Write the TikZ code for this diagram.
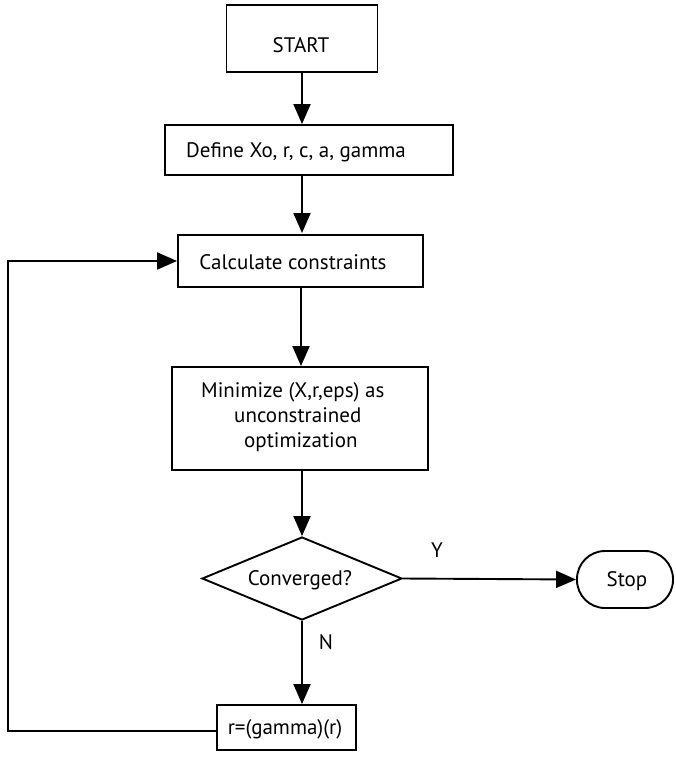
\documentclass[tikz,border=0pt]{standalone}
\usepackage{fontspec}
\setmainfont{PT Sans}
\usetikzlibrary{arrows.meta,shapes.geometric}
\begin{document}
\begin{tikzpicture}[x=1pt,y=-1pt,
  every node/.style={font=\fontsize{21}{25}\selectfont},
  box/.style={draw,line width=1.9pt,rectangle,inner sep=0pt},
  txt/.style={inner sep=0pt,align=center},
  conn/.style={line width=1.9pt,-{Triangle[length=20pt,width=17pt]}}]
\useasboundingbox (0,0) rectangle (675,758);
\node[box,minimum width=151pt,minimum height=67pt] (start) at (302,38.5) {};
\node[txt] (starttxt) at (301,45) {START};
\node[box,minimum width=288pt,minimum height=50pt] (def) at (309,150) {};
\node[txt] (deftxt) at (296,152) {Define Xo, r, c, a, gamma};
\node[box,minimum width=245pt,minimum height=52pt] (calc) at (300.5,261) {};
\node[txt] (calctxt) at (293,262) {Calculate constraints};
\node[box,minimum width=256pt,minimum height=103pt] (min) at (300,418.5) {};
\node[txt,align=left,anchor=west] (mintxt) at (201,417) {Minimize (X,r,eps) as\\\hspace*{33pt}unconstrained\\\hspace*{43pt}optimization};
\node[draw,line width=1.9pt,diamond,aspect=2.41,inner sep=0pt,minimum width=200pt,minimum height=83pt] (conv) at (302,578.5) {};
\node[txt] (convtxt) at (300,580) {Converged?};
\node[draw,line width=1.9pt,rectangle,rounded corners=28pt,minimum width=96pt,minimum height=57pt] (stop) at (625,579.5) {};
\node[txt] (stoptxt) at (627,581) {Stop};
\node[box,minimum width=139pt,minimum height=45pt] (upd) at (286.5,727.5) {};
\node[txt] (updtxt) at (285,729) {r=(gamma)(r)};
\node[txt] (ylab) at (437,550) {Y};
\node[txt] (nlab) at (326,642) {N};
\coordinate (loopc) at (8,731);
\draw[conn] (start.south) -- (def.north -| start.south);
\draw[conn] (302,175) -- (302,233);
\draw[conn] (301,287) -- (min.north -| 301,0);
\draw[conn] (min.south -| conv.north) -- (conv.north);
\draw[conn] (conv.east) -- (stop.west);
\draw[conn] (conv.south) -- (upd.north -| conv.south);
\draw[conn] (upd.west |- loopc) -- (loopc) |- (calc.west);
\end{tikzpicture}
\end{document}
